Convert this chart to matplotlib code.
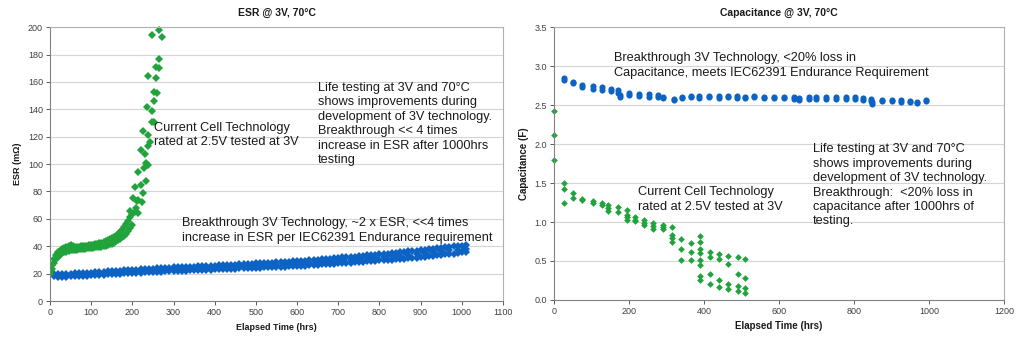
import matplotlib
matplotlib.use('Agg')
import matplotlib.pyplot as plt

plt.rcParams['font.family'] = ['Liberation Sans', 'DejaVu Sans']

# ---------------- ESR data (mOhm) ----------------
# breakthrough 3V cells, blue
esr_blue_t1 = [0, 20, 40, 60, 80, 100, 120, 140, 160, 180, 200, 220, 240, 260, 280, 300, 320, 340, 360, 380,
               400, 420, 440, 460, 480, 500, 520, 540, 560, 580, 600, 620, 640, 660, 680, 700, 720, 740, 760, 780,
               800, 820, 840, 860, 880, 900, 920, 940, 960, 980, 1000]
esr_blue_low = [19.5, 17.7, 17.9, 18.2, 18.5, 18.8, 19.1, 19.4, 19.8, 20.1, 20.5, 20.8, 21.1, 21.3, 21.6, 21.9,
                22.1, 22.4, 22.6, 22.8, 23.1, 23.3, 23.5, 23.8, 24.0, 24.2, 24.5, 24.7, 25.0, 25.3, 25.5, 25.9,
                26.3, 26.7, 27.1, 27.5, 27.9, 28.3, 28.7, 29.1, 29.6, 30.0, 30.5, 31.0, 31.5, 32.0, 32.7, 33.3,
                34.0, 34.7, 35.5]
esr_blue_high = [20.2, 19.5, 19.9, 20.2, 20.5, 20.8, 21.3, 21.6, 22.0, 22.5, 22.9, 23.2, 23.5, 23.9, 24.2, 24.5,
                 24.7, 25.0, 25.4, 25.6, 25.9, 26.3, 26.5, 26.8, 27.0, 27.4, 27.7, 28.1, 28.4, 28.7, 29.1, 29.5,
                 30.1, 30.5, 30.9, 31.5, 32.1, 32.5, 33.1, 33.5, 34.0, 34.6, 35.3, 35.8, 36.5, 37.0, 37.7, 38.5,
                 39.2, 39.9, 40.5]
esr_blue_t2 = [10, 30, 50, 70, 90, 110, 130, 150, 170, 190, 210, 230, 250, 270, 290, 310, 330, 350, 370, 390,
               410, 430, 450, 470, 490, 510, 530, 550, 570, 590, 610, 630, 650, 670, 690, 710, 730, 750, 770, 790,
               810, 830, 850, 870, 890, 910, 930, 950, 970, 990, 1010]
esr_blue_mid = [18.8, 18.8, 19.0, 19.4, 19.7, 20.0, 20.3, 20.7, 21.1, 21.5, 21.9, 22.1, 22.5, 22.8, 23.0, 23.3,
                23.6, 23.8, 24.1, 24.4, 24.6, 24.9, 25.2, 25.4, 25.7, 26.0, 26.3, 26.5, 26.9, 27.2, 27.5, 28.0,
                28.4, 28.8, 29.3, 29.7, 30.2, 30.7, 31.1, 31.6, 32.1, 32.6, 33.2, 33.7, 34.2, 34.9, 35.6, 36.2,
                36.9, 37.6, 38.3]
esr_blue_low2 = [18.0, 17.8, 18.0, 18.3, 18.6, 18.9, 19.2, 19.6, 19.9, 20.3, 20.6, 20.9, 21.2, 21.4, 21.7, 22.0,
                 22.2, 22.5, 22.7, 22.9, 23.2, 23.4, 23.6, 23.9, 24.1, 24.3, 24.6, 24.8, 25.1, 25.4, 25.7, 26.1,
                 26.5, 26.9, 27.3, 27.7, 28.1, 28.5, 28.9, 29.3, 29.8, 30.2, 30.7, 31.2, 31.7, 32.3, 33.0, 33.6,
                 34.3, 35.1, 35.8]
esr_blue_high2 = [19.6, 19.7, 20.0, 20.3, 20.6, 21.0, 21.4, 21.8, 22.2, 22.7, 23.0, 23.3, 23.7, 24.0, 24.3, 24.6,
                  24.9, 25.2, 25.5, 25.8, 26.1, 26.4, 26.6, 26.9, 27.2, 27.5, 27.9, 28.2, 28.5, 28.9, 29.3, 29.8,
                  30.3, 30.7, 31.2, 31.8, 32.3, 32.8, 33.3, 33.7, 34.3, 35.0, 35.5, 36.2, 36.7, 37.4, 38.1, 38.8,
                  39.5, 40.2, 40.6]

# current cell technology, green
esr_green_t = [0, 5, 10, 15, 20, 25, 30, 35, 40, 45, 50, 55, 60, 65, 70, 75, 80, 85, 90, 95, 100, 105, 110,
               115, 120, 125, 130, 135, 140, 145, 150, 155, 160, 165, 170, 175, 180, 185, 190, 195, 200]
esr_green_low = [20.0, 23.5, 27.5, 30.5, 32.5, 33.8, 34.8, 35.5, 36.0, 36.5, 37.0, 37.2, 37.4, 37.6, 37.8, 38.0,
                 38.2, 38.3, 38.5, 38.7, 38.9, 39.0, 39.2, 39.4, 39.6, 39.8, 40.1, 40.5, 40.9, 41.4, 42.0, 42.7,
                 43.5, 44.4, 45.4, 46.5, 47.8, 49.3, 51.0, 53.0, 55.5]
esr_green_high = [21.0, 26.5, 30.5, 33.5, 35.5, 36.8, 37.8, 38.6, 39.5, 40.3, 41.0, 40.5, 39.8, 39.6, 39.8, 40.2,
                  40.0, 40.2, 40.5, 40.7, 41.0, 41.2, 41.4, 41.8, 42.1, 42.5, 43.0, 43.6, 44.2, 45.0, 45.8, 46.8,
                  47.8, 49.0, 50.4, 52.0, 53.8, 56.0, 58.5, 61.0, 63.5]
esr_green_late_t = [194, 202, 206, 206, 210, 212, 214, 214, 213, 221, 222, 223, 226, 227, 228, 231, 232, 233,
                    235, 237, 238, 239, 239, 244, 247, 247, 247, 252, 252, 253, 257, 257, 259, 264, 264, 264, 271]
esr_green_late = [66, 75, 83, 65, 68, 73, 64, 74, 94, 110, 85, 72, 124, 79, 97, 107, 88, 101,
                  142, 99, 113, 121, 164, 116, 131, 139, 194, 131, 146, 153, 163, 171, 152, 170, 177, 198, 193]

# ---------------- Capacitance data (F) ----------------
cap_blue_t = [28, 51, 76, 103, 128, 153, 171, 176, 201, 227, 253, 278, 291, 319, 342, 366, 386, 413, 439, 463,
              489, 509, 534, 560, 587, 612, 639, 654, 679, 698, 725, 752, 778, 803, 825, 844, 848, 874, 900, 926,
              950, 967, 992]
cap_blue_a = [2.85, 2.80, 2.76, 2.74, 2.73, 2.71, 2.69, 2.63, 2.66, 2.64, 2.64, 2.63, 2.61, 2.58, 2.61, 2.62,
              2.62, 2.62, 2.62, 2.62, 2.62, 2.61, 2.62, 2.61, 2.61, 2.61, 2.60, 2.59, 2.61, 2.60, 2.60, 2.60,
              2.60, 2.60, 2.59, 2.58, 2.54, 2.57, 2.56, 2.56, 2.55, 2.54, 2.56]
cap_blue_b = [2.82, 2.78, 2.73, 2.71, 2.70, 2.68, 2.66, 2.60, 2.63, 2.62, 2.61, 2.60, 2.59, 2.56, 2.59, 2.60,
              2.59, 2.60, 2.59, 2.60, 2.59, 2.59, 2.60, 2.59, 2.59, 2.59, 2.58, 2.57, 2.58, 2.58, 2.58, 2.58,
              2.58, 2.58, 2.57, 2.55, 2.52, 2.55, 2.55, 2.54, 2.54, 2.53, 2.55]

cap_green_t = [0, 0, 0, 28, 28, 28, 51, 51, 76, 76, 103, 103, 128, 128, 145, 145, 145, 170, 170,
               195, 195, 195, 195, 215, 215, 215, 240, 240, 240, 265, 265, 265, 290, 290, 290,
               315, 315, 315, 315, 340, 340, 340, 365, 365, 365,
               390, 390, 390, 390, 390, 390, 390, 390, 415, 415, 415, 415, 440, 440, 440, 440,
               465, 465, 465, 465, 490, 490, 490, 490, 510, 510, 510, 510]
cap_green = [2.42, 2.11, 1.79, 1.50, 1.43, 1.25, 1.37, 1.31, 1.29, 1.28, 1.27, 1.25, 1.25, 1.22, 1.22, 1.18, 1.14,
             1.19, 1.13, 1.15, 1.09, 1.06, 1.02, 1.06, 1.03, 1.01, 1.02, 0.99, 0.96, 0.99, 0.95, 0.91,
             0.96, 0.94, 0.91, 0.94, 0.83, 0.79, 0.74, 0.78, 0.65, 0.51, 0.73, 0.62, 0.51,
             0.82, 0.74, 0.65, 0.60, 0.51, 0.45, 0.31, 0.26, 0.61, 0.55, 0.33, 0.20, 0.59, 0.52, 0.26, 0.17,
             0.56, 0.46, 0.20, 0.14, 0.55, 0.33, 0.18, 0.12, 0.52, 0.28, 0.15, 0.09]

BLUE = '#0d63c4'
GREEN = '#1fa33a'
TXT = '#1a1a1a'


def style_axes(ax):
    ax.set_facecolor('white')
    ax.grid(axis='y', color='#d4d4d4', lw=0.8)
    ax.set_axisbelow(True)
    for s in ['top', 'right']:
        ax.spines[s].set_color('#b0b0b0')
        ax.spines[s].set_linewidth(0.8)
    for s in ['left', 'bottom']:
        ax.spines[s].set_color('#808080')
        ax.spines[s].set_linewidth(0.8)
    ax.tick_params(labelsize=6.5, colors='#404040', length=3, width=0.6, direction='out', pad=2)


fig = plt.figure(figsize=(10.24, 3.48), dpi=100)

# ---- ESR panel ----
ax1 = fig.add_axes([0.0488, 0.135, 0.4424, 0.787])
style_axes(ax1)
mk = dict(linestyle='none', marker='D', markeredgewidth=0)
for tt, vals in [(esr_blue_t1, esr_blue_low), (esr_blue_t1, esr_blue_high), (esr_blue_t2, esr_blue_mid),
                 (esr_blue_t2, esr_blue_low2), (esr_blue_t2, esr_blue_high2)]:
    ax1.plot(tt, vals, color=BLUE, markersize=4.3, **mk)
ax1.plot(esr_green_t, esr_green_low, color=GREEN, markersize=4.0, **mk)
ax1.plot(esr_green_t, esr_green_high, color=GREEN, markersize=4.0, **mk)
ax1.plot(esr_green_late_t, esr_green_late, color=GREEN, markersize=3.8, clip_on=False, **mk)
ax1.set_xlim(0, 1100)
ax1.set_ylim(0, 200)
ax1.set_xticks(range(0, 1101, 100))
ax1.set_yticks(range(0, 201, 20))
ax1.set_title('ESR @ 3V, 70°C', fontsize=7.5, fontweight='bold', color=TXT, pad=8)
ax1.set_xlabel('Elapsed Time (hrs)', fontsize=6.5, fontweight='bold', color=TXT, labelpad=4)
ax1.set_ylabel('ESR (mΩ)', fontsize=6.5, fontweight='bold', color=TXT, labelpad=4)

ls = 1.27
ax1.text(252, 131, 'Current Cell Technology\nrated at 2.5V tested at 3V', fontsize=9.2, color=TXT,
         va='top', ha='left', linespacing=ls)
ax1.text(651, 160, 'Life testing at 3V and 70°C\nshows improvements during\ndevelopment of 3V technology.\n'
         'Breakthrough << 4 times\nincrease in ESR after 1000hrs\ntesting', fontsize=9.2, color=TXT,
         va='top', ha='left', linespacing=ls)
ax1.text(321, 61, 'Breakthrough 3V Technology, ~2 x ESR, <<4 times\n'
         'increase in ESR per IEC62391 Endurance requirement', fontsize=9.2, color=TXT,
         va='top', ha='left', linespacing=ls)

# ---- Capacitance panel ----
ax2 = fig.add_axes([0.541, 0.138, 0.4395, 0.784])
style_axes(ax2)
ax2.plot(cap_blue_t, cap_blue_a, color=BLUE, linestyle='none', marker='o', markersize=4.4, markeredgewidth=0)
ax2.plot(cap_blue_t, cap_blue_b, color=BLUE, linestyle='none', marker='o', markersize=4.4, markeredgewidth=0)
ax2.plot(cap_green_t, cap_green, color=GREEN, linestyle='none', marker='D', markersize=3.4,
         markeredgewidth=0, clip_on=False)
ax2.set_xlim(0, 1200)
ax2.set_ylim(0, 3.5)
ax2.set_xticks(range(0, 1201, 200))
ax2.set_yticks([0, 0.5, 1.0, 1.5, 2.0, 2.5, 3.0, 3.5])
ax2.set_yticklabels(['0.0', '0.5', '1.0', '1.5', '2.0', '2.5', '3.0', '3.5'])
ax2.set_title('Capacitance @ 3V, 70°C', fontsize=7.5, fontweight='bold', color=TXT, pad=8)
ax2.set_xlabel('Elapsed Time (hrs)', fontsize=7, fontweight='bold', color=TXT, labelpad=4)
ax2.set_ylabel('Capacitance (F)', fontsize=7, fontweight='bold', color=TXT, labelpad=4)

ax2.text(160, 3.18, 'Breakthrough 3V Technology, <20% loss in\n'
         'Capacitance, meets IEC62391 Endurance Requirement', fontsize=9.2, color=TXT,
         va='top', ha='left', linespacing=ls)
ax2.text(691, 2.01, 'Life testing at 3V and 70°C\nshows improvements during\ndevelopment of 3V technology.\n'
         'Breakthrough:  <20% loss in\ncapacitance after 1000hrs of\ntesting.', fontsize=9.2, color=TXT,
         va='top', ha='left', linespacing=ls)
ax2.text(224, 1.46, 'Current Cell Technology\nrated at 2.5V tested at 3V', fontsize=9.2, color=TXT,
         va='top', ha='left', linespacing=ls)

fig.savefig('out.png', dpi=100, facecolor='white')
